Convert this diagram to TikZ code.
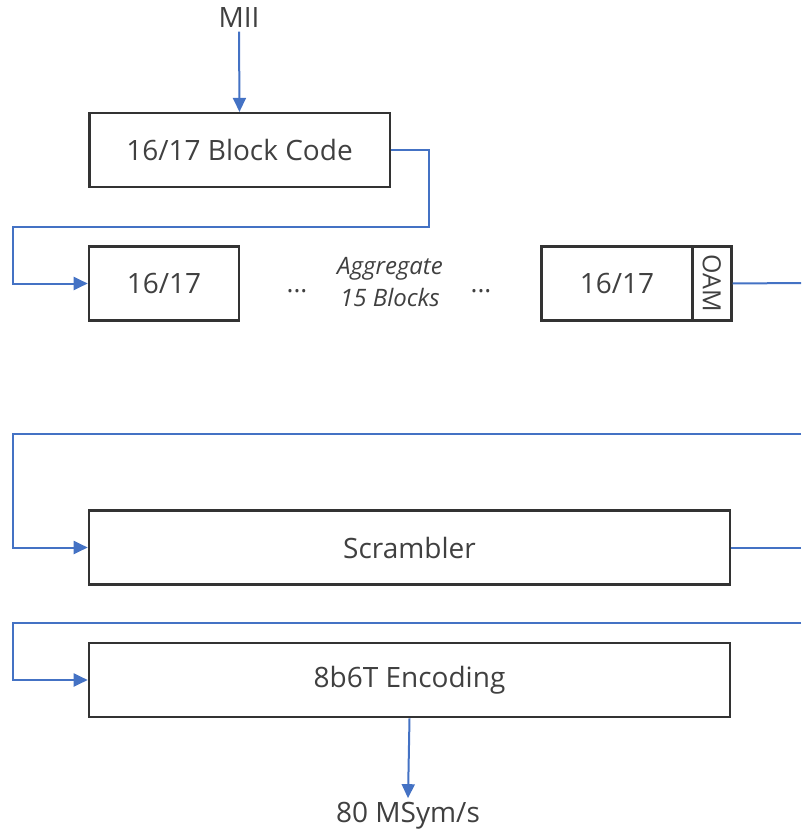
\documentclass[tikz,border=0pt]{standalone}
\usepackage{fontspec}
\setmainfont{Open Sans}
\usetikzlibrary{arrows.meta}
\definecolor{lnblue}{HTML}{4472C4}
\definecolor{txt}{HTML}{404040}
\definecolor{bord}{HTML}{333333}
\begin{document}
\begin{tikzpicture}[x=1pt,y=-1pt,
  box/.style={draw=bord, line width=2.6pt, inner sep=0pt, text=txt,
    font=\fontsize{28}{34}\selectfont, minimum height=74pt},
  conn/.style={draw=lnblue, line width=2pt},
  arr/.style={conn, -{Triangle[length=14pt,width=13pt]}},
  lbl/.style={text=txt, font=\fontsize{28}{34}\selectfont},
  small/.style={text=txt, font=\fontsize{24}{32.5}\selectfont},
]
\useasboundingbox (0,0) rectangle (801,829);

% nodes
\node[lbl, anchor=base] (mii) at (239,28) {MII};
\node[box, minimum width=300.6pt, minimum height=73.6pt] (bc) at (239.5,150) {16/17 Block Code};
\node[box, minimum width=150pt] (b1) at (164,283.5) {16/17};
\node[small, anchor=base, font=\fontsize{26}{32}\selectfont] (d1) at (297,292) {...};
\node[small, font=\fontsize{24}{32.5}\selectfont\itshape, align=center] (agg) at (390,282) {Aggregate\\15 Blocks};
\node[small, anchor=base, font=\fontsize{26}{32}\selectfont] (d2) at (481,292) {...};
\node[box, minimum width=150.5pt] (b2) at (617,283.5) {16/17};
\node[box, minimum width=39pt, font=\fontsize{25}{28}\selectfont] (oam) at (711.8,283.5) {\rotatebox{-90}{OAM}};
\node[box, minimum width=641pt] (scr) at (409.5,547.5) {Scrambler};
\node[box, minimum width=641pt] (enc) at (409.5,680) {\raisebox{-2pt}{8b6T Encoding}};
\node[lbl, anchor=base] (out) at (408,822) {80 MSym/s};

% free ends at the right edge
\coordinate (r1) at (801,283);
\coordinate (r2) at (801,433.5);
\coordinate (r3) at (801,547.5);
\coordinate (r4) at (801,623);

% connectors
\draw[arr] (mii.south) -- (bc.north);
\draw[arr] (bc.east) -| (428.5,226.5) -| (12.5,283.5) -- (b1.west);
\draw[conn] (oam.east) -- (r1);
\draw[arr] (r2) -| (12.5,547.5) -- (scr.west);
\draw[conn] (scr.east) -- (r3);
\draw[arr] (r4) -| (12.5,680) -- (enc.west);
\draw[arr] (enc.south) -- (out.north);
\end{tikzpicture}
\end{document}
